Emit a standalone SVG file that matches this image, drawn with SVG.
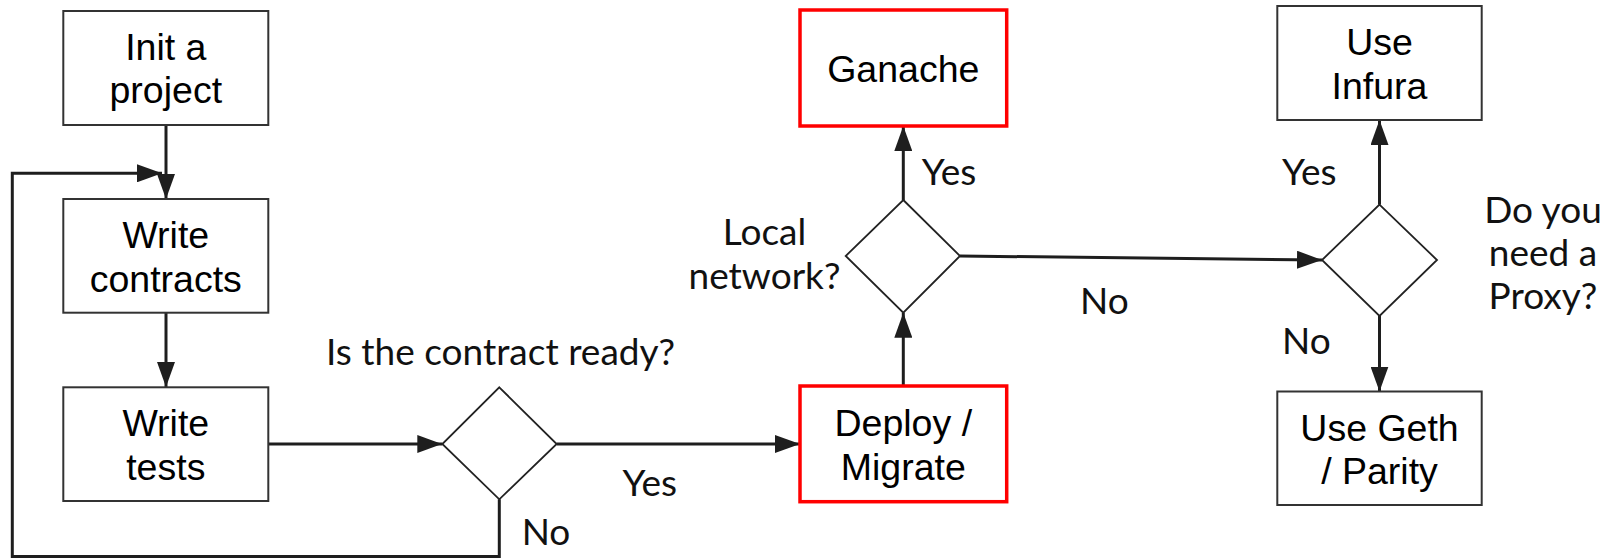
<svg xmlns="http://www.w3.org/2000/svg" width="1608" height="558" viewBox="0 0 1608 558">
<style>
.box{fill:#fff;stroke:#333;stroke-width:2}
.red{fill:#fff;stroke:#f00;stroke-width:3.5}
.dia{fill:#fff;stroke:#222;stroke-width:1.8}
.t{font-family:"Liberation Sans",Arial,sans-serif;font-size:37.5px;fill:#000;text-anchor:middle}
.l{font-family:Lato,"Liberation Sans",sans-serif;font-size:37px;fill:#111}
.c{text-anchor:middle}
.e{fill:none;stroke:#1e1e1e;stroke-width:3}
</style>
<defs>
<marker id="ah" markerUnits="userSpaceOnUse" markerWidth="25" markerHeight="18" viewBox="0 0 25 18" refX="25" refY="9" orient="auto">
<path d="M0,0 L25,9 L0,18 Z" fill="#1e1e1e"/>
</marker>
</defs>
<g id="connectors">
<path class="e" d="M166,125 V199" marker-end="url(#ah)"/>
<path class="e" d="M499.3,499.3 V556.5 H12.3 V173.3 H162" marker-end="url(#ah)"/>
<path class="e" d="M166,312.7 V387" marker-end="url(#ah)"/>
<path class="e" d="M268.3,444 H442.3" marker-end="url(#ah)"/>
<path class="e" d="M556.7,444 H800" marker-end="url(#ah)"/>
<path class="e" d="M903.3,386 V312.7" marker-end="url(#ah)"/>
<path class="e" d="M903.3,200 V126" marker-end="url(#ah)"/>
<path class="e" d="M960,256 L1322,260" marker-end="url(#ah)"/>
<path class="e" d="M1379.5,204.6 V120" marker-end="url(#ah)"/>
<path class="e" d="M1379.5,316 V391.5" marker-end="url(#ah)"/>
</g>
<g id="init">
<rect class="box" x="63.3" y="11" width="205" height="114"/>
<text class="t" x="165.8" y="60">Init a</text>
<text class="t" x="165.8" y="103">project</text>
</g>
<g id="write-contracts">
<rect class="box" x="63.3" y="199" width="205" height="113.7"/>
<text class="t" x="165.8" y="247.5">Write</text>
<text class="t" x="165.8" y="291.5">contracts</text>
</g>
<g id="write-tests">
<rect class="box" x="63.3" y="387.3" width="205" height="113.7"/>
<text class="t" x="165.8" y="435.5">Write</text>
<text class="t" x="165.8" y="479.5">tests</text>
</g>
<g id="contract-ready">
<path class="dia" d="M499.3,387.3 L556.7,444 L499.3,499.3 L442.3,444 Z"/>
<text class="l" x="326" y="365">Is the contract ready?</text>
</g>
<g id="deploy">
<rect class="red" x="800" y="386" width="206.7" height="115.7"/>
<text class="t" x="903.3" y="435.5">Deploy /</text>
<text class="t" x="903.3" y="479.5">Migrate</text>
</g>
<g id="local-network">
<path class="dia" d="M903.3,200 L960,256 L903.3,312.7 L845.7,256 Z"/>
<text class="l c" x="764.5" y="245">Local</text>
<text class="l c" x="764.5" y="289">network?</text>
</g>
<g id="ganache">
<rect class="red" x="800" y="10" width="206.7" height="116"/>
<text class="t" x="903.3" y="82">Ganache</text>
</g>
<g id="proxy">
<path class="dia" d="M1379.5,204.6 L1437,260 L1379.5,316 L1322,260 Z"/>
<text class="l c" x="1543" y="223">Do you</text>
<text class="l c" x="1543" y="266">need a</text>
<text class="l c" x="1543" y="309">Proxy?</text>
</g>
<g id="infura">
<rect class="box" x="1277.3" y="6" width="204.4" height="114"/>
<text class="t" x="1379.5" y="54.5">Use</text>
<text class="t" x="1379.5" y="98.5">Infura</text>
</g>
<g id="geth">
<rect class="box" x="1277.3" y="391.5" width="204.4" height="113.5"/>
<text class="t" x="1379.5" y="440.5">Use Geth</text>
<text class="t" x="1379.5" y="483.5">/ Parity</text>
</g>
<g id="labels">
<text class="l" x="622.5" y="496">Yes</text>
<text class="l" x="521.7" y="545">No</text>
<text class="l" x="921.7" y="185">Yes</text>
<text class="l" x="1080" y="314">No</text>
<text class="l" x="1282" y="185">Yes</text>
<text class="l" x="1282" y="354">No</text>
</g>
</svg>
